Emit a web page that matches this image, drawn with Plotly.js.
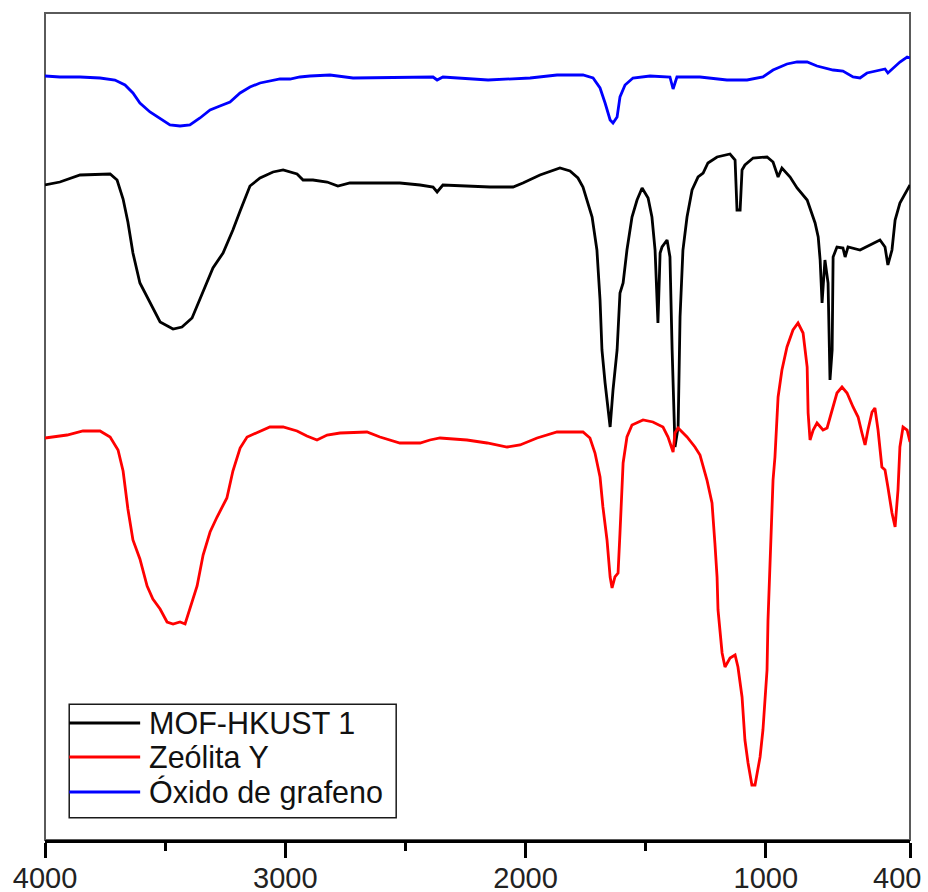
<!DOCTYPE html>
<html>
<head>
<meta charset="utf-8">
<script src="https://cdn.plot.ly/plotly-3.0.1.min.js"></script>
<style>
  html, body { margin: 0; padding: 0; background: #ffffff; }
  #chart { width: 928px; height: 892px; }
</style>
</head>
<body>
<div id="chart"></div>
<script>
// FTIR spectra, wavenumber (cm-1) vs. transmittance (arbitrary units, offset per sample)

const seriesNames = ['MOF-HKUST 1', 'Zeólita Y', 'Óxido de grafeno'];
const seriesColors = ['#000000', '#ff0000', '#0000ff'];

const tickVals = [4000, 3000, 2000, 1000, 400];
const tickLabels = ['4000', '3000', '2000', '1000', '400'];
const minorTickVals = [3500, 2500, 1500];

// MOF-HKUST 1
const mofWn = [4000,3938,3854,3771,3729,3700,3675,3655,3634,3605,3563,3521,3467,3430,3388,3342,3301,3259,3218,3188,
  3147,3105,3051,3009,2951,2926,2885,2826,2781,2731,2523,2439,2385,2368,2344,2148,2052,2011,1940,1857,
  1815,1782,1761,1723,1703,1690,1682,1669,1648,1636,1619,1607,1594,1578,1557,1536,1515,1490,1474,1461,
  1453,1449,1440,1432,1411,1399,1390,1386,1378,1365,1357,1345,1328,1307,1282,1261,1241,1203,1149,1128,
  1120,1107,1099,1087,1053,995,970,949,933,899,870,828,795,782,774,766,754,741,733,724,
  720,704,679,670,658,608,525,504,492,475,462,442,400];
const mofT = [655,658,665,666,666,660,641,618,587,557,537,518,511,513,522,549,572,587,610,629,
  654,662,668,670,666,660,660,658,654,657,657,655,653,648,655,653,653,657,665,672,
  669,662,653,623,590,540,490,457,413,450,490,547,557,590,623,640,652,642,623,590,
  530,517,587,593,600,583,490,460,393,413,523,590,623,650,663,667,677,683,686,680,
  630,630,670,675,682,683,678,663,672,663,652,640,617,603,580,537,580,557,460,490,
  583,593,592,583,593,590,600,593,575,590,620,637,655];

// Zeólita Y
const zeoWn = [4000,3908,3842,3771,3729,3696,3675,3655,3634,3605,3575,3551,3521,3492,3467,3438,3417,3397,3367,3342,
  3313,3284,3243,3218,3188,3159,3105,3064,3009,2951,2910,2868,2826,2772,2660,2606,2523,2439,2398,2356,
  2244,2160,2077,2023,1952,1869,1761,1732,1711,1690,1678,1661,1648,1640,1628,1615,1607,1599,1594,1578,
  1557,1511,1470,1428,1407,1386,1378,1365,1328,1295,1274,1245,1224,1212,1203,1199,1182,1170,1149,1128,
  1116,1099,1087,1074,1058,1045,1024,1012,995,991,983,974,970,962,953,949,933,912,887,866,
  845,828,824,816,803,787,762,745,724,704,683,662,637,616,600,587,575,558,546,533,
  517,504,492,475,462,450,442,429,412,400];
const zeoT = [402,405,409,409,403,390,369,331,300,281,254,241,231,218,216,218,216,231,254,285,
  308,323,342,369,392,403,409,413,413,409,404,400,405,407,408,403,397,397,400,402,
  400,397,393,395,402,408,408,402,387,363,333,300,263,252,263,267,307,350,377,403,
  415,420,418,413,403,388,407,412,403,393,385,360,337,297,263,230,187,173,182,185,
  173,143,100,77,55,55,83,110,170,220,267,327,360,383,420,443,470,493,510,517,
  507,473,427,400,410,417,410,412,430,447,453,447,433,423,407,395,410,428,432,410,
  373,370,353,327,313,350,393,413,410,398];

// Óxido de grafeno
const goWn = [4000,3938,3854,3771,3709,3667,3634,3605,3563,3521,3480,3438,3397,3355,3313,3272,3230,3188,3147,3105,
  3064,3022,2980,2939,2897,2814,2718,2493,2385,2368,2344,2156,1981,1869,1761,1719,1690,1669,1648,1636,
  1619,1607,1586,1553,1482,1399,1386,1370,1274,1162,1078,1012,970,912,870,828,787,720,679,637,
  608,579,537,504,492,471,442,412,400];
const goT = [764,763,763,762,760,755,747,737,728,721,715,714,715,722,730,734,738,747,753,757,
  759,761,761,763,764,765,762,763,763,760,763,760,762,765,765,762,752,737,720,717,
  723,743,755,762,764,763,751,763,763,760,760,763,770,776,778,778,774,770,769,763,
  762,767,769,771,767,772,778,783,782];

const xs = [mofWn, zeoWn, goWn];
const ys = [mofT, zeoT, goT];

const FONT = 'Liberation Sans, Arial, Helvetica, sans-serif';

const traces = xs.map((x, i) => ({
  type: 'scatter',
  mode: 'lines',
  name: seriesNames[i],
  x: x,
  y: ys[i],
  line: { color: seriesColors[i], width: 2.8 },
  showlegend: false
}));

// legend box drawn in paper coordinates (lower-left corner of the plot)
const legendX0 = 0.028, legendX1 = 0.406, legendY0 = 0.027, legendY1 = 0.164;
const legendRows = [0.1415, 0.1004, 0.0580];
const legendLineX1 = 0.110;
const legendTextX = 0.118;

const shapes = [
  // plot frame (left, top, right)
  { type: 'rect', xref: 'paper', yref: 'paper', x0: 0, x1: 1, y0: 0, y1: 1,
    line: { color: '#5a5a5a', width: 2 }, layer: 'below' },
  { type: 'rect', xref: 'paper', yref: 'paper', x0: legendX0, x1: legendX1, y0: legendY0, y1: legendY1,
    line: { color: '#1a1a1a', width: 1.5 }, fillcolor: 'rgba(0,0,0,0)', layer: 'above' }
];
const annotations = [];
seriesNames.forEach((name, i) => {
  shapes.push({ type: 'line', xref: 'paper', yref: 'paper',
    x0: legendX0, x1: legendLineX1, y0: legendRows[i], y1: legendRows[i],
    line: { color: seriesColors[i], width: 3 }, layer: 'above' });
  annotations.push({ xref: 'paper', yref: 'paper', x: legendTextX, y: legendRows[i],
    xanchor: 'left', yanchor: 'middle', showarrow: false, text: name,
    font: { family: FONT, size: 30.5, color: '#111111' } });
});

// last tick label, held inside the canvas
annotations.push({ xref: 'x', yref: 'paper', x: 400, y: 0, xanchor: 'center', yanchor: 'top',
  xshift: -13, yshift: -20, showarrow: false, text: tickLabels[4],
  font: { family: FONT, size: 29, color: '#222222' } });

const layout = {
  width: 928,
  height: 892,
  margin: { l: 45, r: 18, t: 13, b: 52 },
  paper_bgcolor: '#ffffff',
  plot_bgcolor: '#ffffff',
  showlegend: false,
  font: { family: FONT, size: 29, color: '#222222' },
  xaxis: {
    range: [4000, 400],
    tickmode: 'array',
    tickvals: tickVals,
    ticktext: tickLabels.map((t, i) => (i === tickLabels.length - 1 ? '' : t)),
    ticks: 'outside',
    ticklen: 15,
    tickwidth: 3,
    tickcolor: '#000000',
    ticklabelstandoff: -5,
    minor: { tickmode: 'array', tickvals: minorTickVals, ticks: 'outside', ticklen: 8, tickwidth: 3, tickcolor: '#000000', showgrid: false },
    showline: true,
    linecolor: '#000000',
    linewidth: 3,
    showgrid: false,
    zeroline: false,
    tickfont: { family: FONT, size: 29, color: '#222222' }
  },
  yaxis: {
    range: [0, 827],
    showticklabels: false,
    ticks: '',
    showgrid: false,
    zeroline: false,
    showline: false
  },
  shapes: shapes,
  annotations: annotations
};

Plotly.newPlot('chart', traces, layout, { staticPlot: true, displayModeBar: false });
</script>
</body>
</html>
